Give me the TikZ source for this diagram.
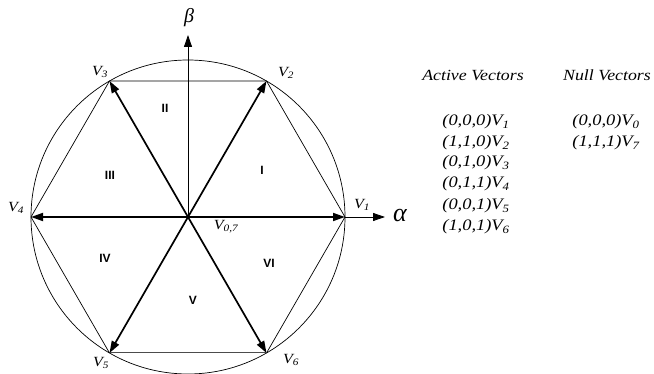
\documentclass[tikz,border=0pt]{standalone}
\usepackage{fontspec}
\setmainfont{Liberation Serif}
\newfontfamily\wideserif[FakeStretch=1.15]{Liberation Serif}
\newfontfamily\arialb{Liberation Sans}
\usetikzlibrary{arrows.meta}
\begin{document}
\begin{tikzpicture}[x=1pt,y=-1pt,
  thinline/.style={line width=0.7pt},
  vec/.style={line width=1.7pt,-{Triangle[length=12pt,width=8pt]}},
  axis/.style={line width=0.8pt,-{Triangle[length=12pt,width=8pt]}},
  vlab/.style={font=\wideserif\fontsize{14}{15}\selectfont\itshape, inner sep=0pt},
  sect/.style={font=\arialb\bfseries\fontsize{12}{13}\selectfont, inner sep=0pt},
  tabh/.style={font=\wideserif\fontsize{15.5}{17}\selectfont\itshape, inner sep=0pt},
  tab/.style={font=\wideserif\fontsize{16}{17}\selectfont\itshape, inner sep=0pt}]
\useasboundingbox (0,0) rectangle (654,374);
\coordinate (C) at (188,217);
\coordinate (P1) at (345,217);
\coordinate (P2) at (266.5,81);
\coordinate (P3) at (109.5,81);
\coordinate (P4) at (31,217);
\coordinate (P5) at (109.5,353);
\coordinate (P6) at (266.5,353);
\coordinate (Btip) at (188,35);
\coordinate (Atip) at (385,217);
% circle and hexagon
\draw[thinline] (C) circle[radius=157];
\draw[thinline] (P5) -- (P4) -- (P3) -- (P2) -- (P1) -- (P6);
\draw[line width=1pt, black!70] (P5) -- (P6);
% axes
\draw[axis] (C) -- (Btip);
\draw[axis] (P1) -- (Atip);
% vectors
\foreach \p in {P1,P2,P3,P4,P5,P6} \draw[vec] (C) -- (\p);
% axis labels
\node[font=\fontsize{20}{22}\selectfont\itshape, inner sep=0pt] (beta) at (189,18) {β};
\node[font=\fontsize{26}{28}\selectfont\itshape, inner sep=0pt] (alpha) at (400,216) {α};
% vertex labels
\node[vlab] (L3) at (100,72) {V\textsubscript{3}};
\node[vlab] (L2) at (286,73) {V\textsubscript{2}};
\node[vlab] (L4) at (16,208) {V\textsubscript{4}};
\node[vlab] (L1) at (362,205) {V\textsubscript{1}};
\node[vlab] (L5) at (101,363) {V\textsubscript{5}};
\node[vlab] (L6) at (291,360) {V\textsubscript{6}};
\node[vlab] (L07) at (226,227) {V\textsubscript{0,7}};
% sector labels
\node[sect] (S1) at (262,170) {I};
\node[sect] (S2) at (165,108) {II};
\node[sect] (S3) at (110,175) {III};
\node[sect] (S4) at (105,258) {IV};
\node[sect] (S5) at (193,300) {V};
\node[sect] (S6) at (269,263) {VI};
% table
\node[tabh] (hA) at (473,75) {Active Vectors};
\node[tabh] (hN) at (607,75) {Null Vectors};
\node[tab] (a1) at (476,122) {(0,0,0)V\textsubscript{1}};
\node[tab] (a2) at (476,143) {(1,1,0)V\textsubscript{2}};
\node[tab] (a3) at (476,163) {(0,1,0)V\textsubscript{3}};
\node[tab] (a4) at (476,184) {(0,1,1)V\textsubscript{4}};
\node[tab] (a5) at (476,206) {(0,0,1)V\textsubscript{5}};
\node[tab] (a6) at (476,227) {(1,0,1)V\textsubscript{6}};
\node[tab] (n0) at (606,122) {(0,0,0)V\textsubscript{0}};
\node[tab] (n7) at (606,143) {(1,1,1)V\textsubscript{7}};
\end{tikzpicture}
\end{document}
